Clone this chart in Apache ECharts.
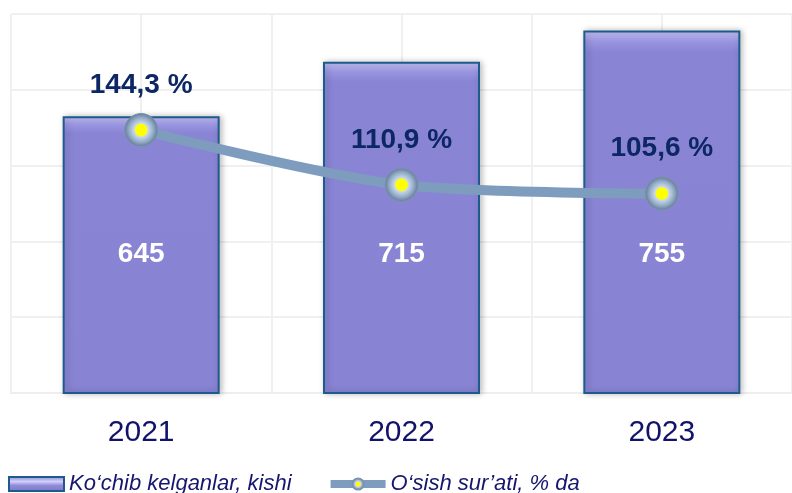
<!DOCTYPE html>
<html>
<head>
<meta charset="utf-8">
<script src="https://cdn.jsdelivr.net/npm/echarts@6/dist/echarts.min.js"></script>
<style>
    html, body {margin: 0; padding: 0; background: #fff;}
    #chart {width: 792px; height: 493px;}
</style>
</head>
<body>
<div id="chart"></div>
<script>
// 数据
var years = ['2021', '2022', '2023'];
var arrivals = [645, 715, 755];          // Ko'chib kelganlar, kishi
var growth = [144.3, 110.9, 105.6];      // O'sish sur'ati, % da
var halfSlots = ['a', 'b', 'c', 'd', 'e', 'f']; // 竖向网格线用

var chart = echarts.init(document.getElementById('chart'));

var barColor = new echarts.graphic.LinearGradient(0, 0, 0, 1, [
    {offset: 0, color: '#c6c2f6'},
    {offset: 0.03, color: '#9a95e0'},
    {offset: 0.06, color: '#8984d4'},
    {offset: 1, color: '#8883d3'}
]);

var option = {
    animation: false,
    textStyle: {fontFamily: 'Liberation Sans, Arial, sans-serif'},
    grid: {left: 11, top: 14, width: 785, bottom: 100},
    legend: {
        left: 3,
        top: 468,
        itemGap: 35,
        itemWidth: 55,
        itemHeight: 14,
        textStyle: {fontSize: 22, fontStyle: 'italic', color: '#16166e'},
        lineStyle: {width: 8},
        data: [
            {
                name: 'Ko‘chib kelganlar, kishi',
                icon: 'rect',
                itemStyle: {
                    color: new echarts.graphic.LinearGradient(0, 0, 0, 1, [
                        {offset: 0, color: '#8883d3'},
                        {offset: 0.35, color: '#d2cffa'},
                        {offset: 0.6, color: '#8f8ad8'},
                        {offset: 1, color: '#7c77c6'}
                    ]),
                    borderColor: '#1d5b8c',
                    borderWidth: 2
                }
            },
            {name: 'O‘sish sur’ati, % da'}
        ]
    },
    xAxis: [
        {
            type: 'category',
            data: years,
            axisLine: {show: true, onZero: false, lineStyle: {color: '#eeeeee', width: 2}},
            axisTick: {show: false},
            axisLabel: {fontSize: 30, color: '#12126b', margin: 25},
            splitLine: {show: false}
        },
        {
            type: 'category',
            data: halfSlots,
            position: 'top',
            axisLine: {show: false},
            axisTick: {show: false},
            axisLabel: {show: false},
            splitLine: {show: true, lineStyle: {color: '#f0f0f0', width: 2}}
        }
    ],
    yAxis: [
        {
            type: 'value',
            min: 291,
            max: 776,
            interval: 97,
            axisLine: {show: false},
            axisTick: {show: false},
            axisLabel: {show: false},
            splitLine: {lineStyle: {color: '#f0f0f0', width: 2}}
        },
        {
            type: 'value',
            min: -16,
            max: 215,
            show: false,
            axisLine: {show: false, onZero: false},
            splitLine: {show: false}
        }
    ],
    series: [
        {
            name: 'Ko‘chib kelganlar, kishi',
            type: 'bar',
            barWidth: 157,
            data: arrivals,
            itemStyle: {
                color: barColor,
                borderColor: '#1d5b8c',
                borderWidth: 2,
                shadowColor: 'rgba(0,0,0,0.25)',
                shadowBlur: 6,
                shadowOffsetX: 2
            },
            label: {
                show: true,
                position: 'insideBottom',
                distance: 126,
                fontSize: 28,
                fontWeight: 'bold',
                color: '#ffffff'
            }
        },
        {
            name: 'O‘sish sur’ati, % da',
            type: 'line',
            yAxisIndex: 1,
            smooth: 0.3,
            data: growth,
            symbol: 'circle',
            symbolSize: 33,
            lineStyle: {color: '#7e9cbd', width: 10},
            itemStyle: {
                color: new echarts.graphic.RadialGradient(0.5, 0.5, 0.5, [
                    {offset: 0, color: '#ffff00'},
                    {offset: 0.34, color: '#ffff00'},
                    {offset: 0.4, color: '#c9d9ea'},
                    {offset: 0.72, color: '#94abc7'},
                    {offset: 1, color: '#5d7896'}
                ]),
                borderColor: '#7d93ad',
                borderWidth: 1
            },
            label: {
                show: true,
                position: 'top',
                distance: 14,
                fontSize: 28,
                fontWeight: 'bold',
                color: '#0c2763',
                formatter: function (p) {
                    return p.value.toFixed(1).replace('.', ',') + ' %';
                }
            },
            z: 5
        }
    ]
};

chart.setOption(option);
</script>
</body>
</html>
